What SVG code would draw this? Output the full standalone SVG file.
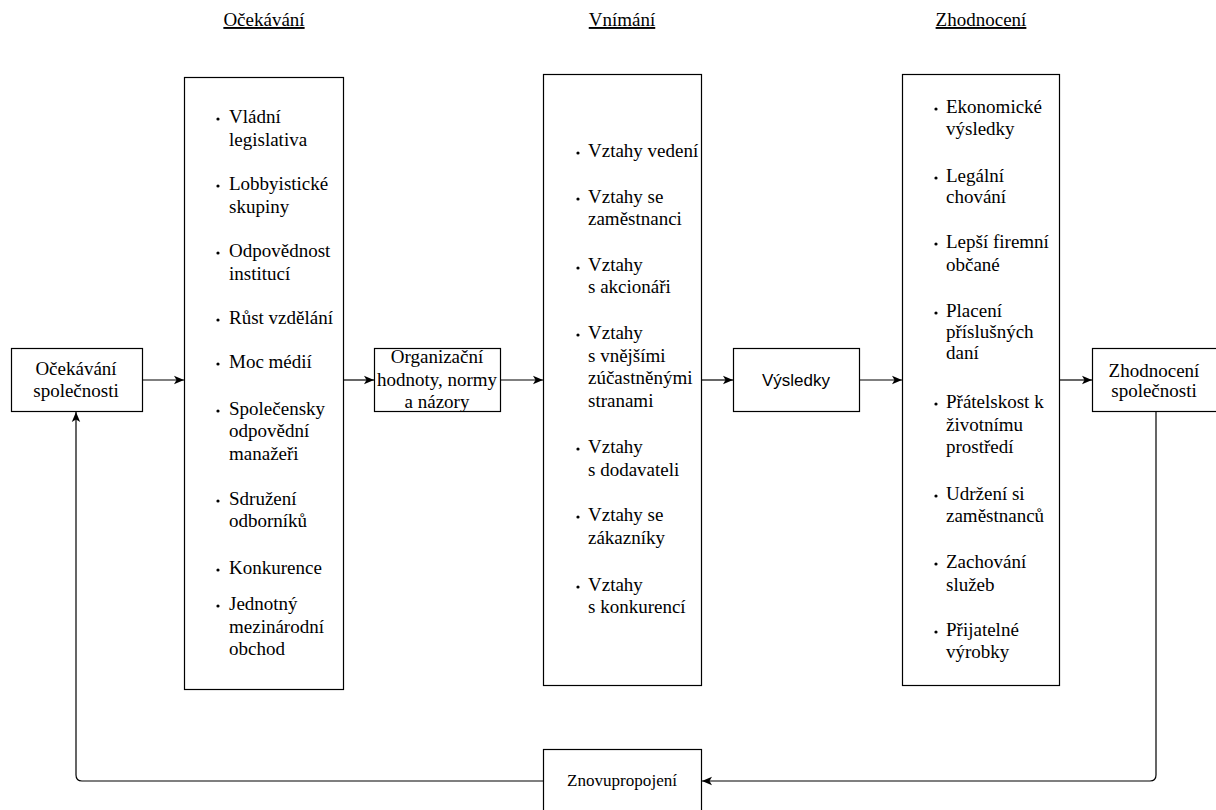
<svg xmlns="http://www.w3.org/2000/svg" width="1216" height="810" viewBox="0 0 1216 810">
  <style>
    .box { fill: #ffffff; stroke: #000000; stroke-width: 1.2; }
    .t { font-family: "Liberation Serif", "Times New Roman", serif; font-size: 19px; fill: #000000; }
    .c { text-anchor: middle; }
    .title { text-decoration: underline; }
    .sans { font-family: "Liberation Sans", Arial, sans-serif; font-size: 17px; fill: #000000; }
    .edge { fill: none; stroke: #000000; stroke-width: 1.2; }
    .dot { fill: #000000; }
  </style>
  <defs>
    <marker id="arrow" viewBox="0 0 10 10" refX="10" refY="5" markerWidth="10" markerHeight="10" markerUnits="userSpaceOnUse" orient="auto">
      <path d="M0,0.8 L10,5 L0,9.2 L2.5,5 Z" fill="#000000"/>
    </marker>
  </defs>

  <!-- column headings -->
  <g id="headings">
    <text class="t c title" x="264" y="26">Očekávání</text>
    <text class="t c title" x="622" y="26">Vnímání</text>
    <text class="t c title" x="981" y="26">Zhodnocení</text>
  </g>

  <!-- connectors -->
  <g id="connectors">
    <path class="edge" d="M142,380 H184" marker-end="url(#arrow)"/>
    <path class="edge" d="M343,380 H374" marker-end="url(#arrow)"/>
    <path class="edge" d="M501,380 H543" marker-end="url(#arrow)"/>
    <path class="edge" d="M702,380 H733" marker-end="url(#arrow)"/>
    <path class="edge" d="M860,380 H902" marker-end="url(#arrow)"/>
    <path class="edge" d="M1060,380 H1092" marker-end="url(#arrow)"/>
    <path class="edge" d="M1156,412 V775 Q1156,781 1150,781 H702" marker-end="url(#arrow)"/>
    <path class="edge" d="M543,781 H82 Q76,781 76,775 V412" marker-end="url(#arrow)"/>
  </g>

  <!-- society expectations -->
  <g id="ocekavani-spolecnosti">
    <rect class="box" x="11.5" y="348.5" width="131" height="63"/>
    <text class="t c" x="76" y="375">Očekávání</text>
    <text class="t c" x="76" y="397">společnosti</text>
  </g>

  <!-- expectations list -->
  <g id="ocekavani">
    <rect class="box" x="184.5" y="77.5" width="159" height="612"/>
    <g class="dot">
      <circle cx="218" cy="119" r="1.6"/>
      <circle cx="218" cy="186" r="1.6"/>
      <circle cx="218" cy="253" r="1.6"/>
      <circle cx="218" cy="320" r="1.6"/>
      <circle cx="218" cy="364" r="1.6"/>
      <circle cx="218" cy="411" r="1.6"/>
      <circle cx="218" cy="501" r="1.6"/>
      <circle cx="218" cy="570" r="1.6"/>
      <circle cx="218" cy="606" r="1.6"/>
    </g>
    <text class="t" x="229" y="123">Vládní</text>
    <text class="t" x="229" y="146">legislativa</text>
    <text class="t" x="229" y="190">Lobbyistické</text>
    <text class="t" x="229" y="213">skupiny</text>
    <text class="t" x="229" y="257">Odpovědnost</text>
    <text class="t" x="229" y="280">institucí</text>
    <text class="t" x="229" y="324">Růst vzdělání</text>
    <text class="t" x="229" y="368">Moc médií</text>
    <text class="t" x="229" y="415">Společensky</text>
    <text class="t" x="229" y="437">odpovědní</text>
    <text class="t" x="229" y="460">manažeři</text>
    <text class="t" x="229" y="505">Sdružení</text>
    <text class="t" x="229" y="527">odborníků</text>
    <text class="t" x="229" y="574">Konkurence</text>
    <text class="t" x="229" y="610">Jednotný</text>
    <text class="t" x="229" y="633">mezinárodní</text>
    <text class="t" x="229" y="655">obchod</text>
  </g>

  <!-- organisational values -->
  <g id="organizacni-hodnoty">
    <rect class="box" x="374.5" y="348.5" width="126" height="63"/>
    <text class="t c" x="437" y="363">Organizační</text>
    <text class="t c" x="437" y="386">hodnoty, normy</text>
    <text class="t c" x="437" y="408">a názory</text>
  </g>

  <!-- perception list -->
  <g id="vnimani">
    <rect class="box" x="543.5" y="74.5" width="158" height="611"/>
    <g class="dot">
      <circle cx="578" cy="153" r="1.6"/>
      <circle cx="578" cy="199" r="1.6"/>
      <circle cx="578" cy="268" r="1.6"/>
      <circle cx="578" cy="335" r="1.6"/>
      <circle cx="578" cy="449" r="1.6"/>
      <circle cx="578" cy="517" r="1.6"/>
      <circle cx="578" cy="587" r="1.6"/>
    </g>
    <text class="t" x="588" y="157">Vztahy vedení</text>
    <text class="t" x="588" y="203">Vztahy se</text>
    <text class="t" x="588" y="225">zaměstnanci</text>
    <text class="t" x="588" y="271">Vztahy</text>
    <text class="t" x="588" y="293">s akcionáři</text>
    <text class="t" x="588" y="339">Vztahy</text>
    <text class="t" x="588" y="362">s vnějšími</text>
    <text class="t" x="588" y="384">zúčastněnými</text>
    <text class="t" x="588" y="407">stranami</text>
    <text class="t" x="588" y="453">Vztahy</text>
    <text class="t" x="588" y="476">s dodavateli</text>
    <text class="t" x="588" y="521">Vztahy se</text>
    <text class="t" x="588" y="544">zákazníky</text>
    <text class="t" x="588" y="591">Vztahy</text>
    <text class="t" x="588" y="613">s konkurencí</text>
  </g>

  <!-- results -->
  <g id="vysledky">
    <rect class="box" x="733.5" y="348.5" width="126" height="63"/>
    <text class="sans c" x="796" y="386">Výsledky</text>
  </g>

  <!-- evaluation list -->
  <g id="zhodnoceni">
    <rect class="box" x="902.5" y="74.5" width="157" height="611"/>
    <g class="dot">
      <circle cx="936" cy="109" r="1.6"/>
      <circle cx="936" cy="178" r="1.6"/>
      <circle cx="936" cy="244" r="1.6"/>
      <circle cx="936" cy="313" r="1.6"/>
      <circle cx="936" cy="404" r="1.6"/>
      <circle cx="936" cy="496" r="1.6"/>
      <circle cx="936" cy="564" r="1.6"/>
      <circle cx="936" cy="632" r="1.6"/>
    </g>
    <text class="t" x="946" y="113">Ekonomické</text>
    <text class="t" x="946" y="135">výsledky</text>
    <text class="t" x="946" y="182">Legální</text>
    <text class="t" x="946" y="203">chování</text>
    <text class="t" x="946" y="248">Lepší firemní</text>
    <text class="t" x="946" y="271">občané</text>
    <text class="t" x="946" y="317">Placení</text>
    <text class="t" x="946" y="338">příslušných</text>
    <text class="t" x="946" y="359">daní</text>
    <text class="t" x="946" y="408">Přátelskost k</text>
    <text class="t" x="946" y="431">životnímu</text>
    <text class="t" x="946" y="453">prostředí</text>
    <text class="t" x="946" y="500">Udržení si</text>
    <text class="t" x="946" y="522">zaměstnanců</text>
    <text class="t" x="946" y="568">Zachování</text>
    <text class="t" x="946" y="591">služeb</text>
    <text class="t" x="946" y="636">Přijatelné</text>
    <text class="t" x="946" y="658">výrobky</text>
  </g>

  <!-- society evaluation -->
  <g id="zhodnoceni-spolecnosti">
    <rect class="box" x="1092.5" y="348.5" width="130" height="63"/>
    <text class="t c" x="1154" y="377">Zhodnocení</text>
    <text class="t c" x="1154" y="397">společnosti</text>
  </g>

  <!-- reconnection -->
  <g id="znovupropojeni">
    <rect class="box" x="543.5" y="749.5" width="158" height="70"/>
    <text class="t c" x="622" y="786" style="font-size:16px" textLength="110" lengthAdjust="spacingAndGlyphs">Znovupropojení</text>
  </g>
</svg>
